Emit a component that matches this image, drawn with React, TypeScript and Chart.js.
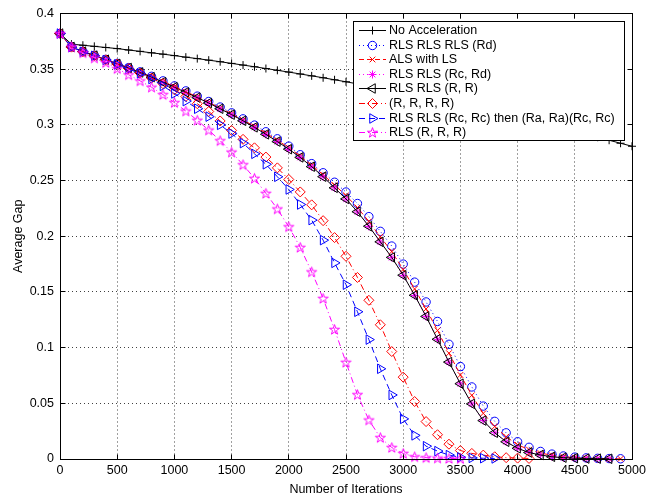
import React, { useEffect, useRef } from 'react';
import { Chart, registerables } from 'chart.js';
import { drawPoint } from 'chart.js/helpers';

Chart.register(...registerables);

const FONT = '"Liberation Sans", Arial, Helvetica, sans-serif';

const ITERATIONS = [
  0, 100, 200, 300, 400, 500, 600, 700, 800, 900,
  1000, 1100, 1200, 1300, 1400, 1500, 1600, 1700, 1800, 1900,
  2000, 2100, 2200, 2300, 2400, 2500, 2600, 2700, 2800, 2900,
  3000, 3100, 3200, 3300, 3400, 3500, 3600, 3700, 3800, 3900,
  4000, 4100, 4200, 4300, 4400, 4500, 4600, 4700, 4800, 4900,
  5000,
];

const X_TICKS = [0, 500, 1000, 1500, 2000, 2500, 3000, 3500, 4000, 4500, 5000];
const Y_TICKS = [0, 0.05, 0.1, 0.15, 0.2, 0.25, 0.3, 0.35, 0.4];
const Y_TICK_LABELS = ['0', '0.05', '0.1', '0.15', '0.2', '0.25', '0.3', '0.35', '0.4'];

const LABELS = [
  'No Acceleration',
  'RLS RLS RLS (Rd)',
  'ALS with LS',
  'RLS RLS (Rc, Rd)',
  'RLS RLS (R, R)',
  '(R, R, R, R)',
  'RLS RLS (Rc, Rc) then (Ra, Ra)(Rc, Rc)',
  'RLS (R, R, R)',
];

const NO_ACCEL = [
  0.382, 0.3725, 0.3715, 0.3705, 0.3695, 0.3685, 0.3672, 0.366, 0.3647, 0.3635,
  0.3622, 0.3608, 0.3595, 0.3581, 0.3567, 0.3552, 0.3537, 0.3522, 0.3506, 0.349,
  0.3474, 0.3457, 0.344, 0.3423, 0.3405, 0.3387, 0.3368, 0.3349, 0.333, 0.331,
  0.329, 0.327, 0.3249, 0.3228, 0.3206, 0.3184, 0.3162, 0.3139, 0.3116, 0.3092,
  0.3068, 0.3044, 0.3019, 0.2994, 0.2968, 0.2942, 0.2916, 0.2889, 0.2862, 0.2835,
  0.2808,
];

const RLS3_RD = [
  0.382, 0.3702, 0.366, 0.3625, 0.3588, 0.3552, 0.3514, 0.3476, 0.3436, 0.3395,
  0.3350, 0.3305, 0.3258, 0.3210, 0.3160, 0.3108, 0.3054, 0.2998, 0.2938, 0.2875,
  0.2809, 0.2732, 0.2652, 0.257, 0.2485, 0.2397, 0.2294, 0.2176, 0.2044, 0.1912,
  0.175, 0.1588, 0.141, 0.1235, 0.103, 0.083, 0.0647, 0.0475, 0.0338, 0.0235,
  0.0155, 0.0105, 0.0068, 0.0044, 0.0027, 0.0017, 0.001, 0.0006, 0.0004, 0.0002,
];

const ALS_LS = [
  0.381, 0.37, 0.3659, 0.3623, 0.3586, 0.355, 0.3512, 0.3473, 0.3431, 0.3388,
  0.3344, 0.3298, 0.3251, 0.3202, 0.3151, 0.3099, 0.3044, 0.2987, 0.2926, 0.2862,
  0.2795, 0.2719, 0.2638, 0.2553, 0.2460, 0.2366, 0.2257, 0.2133, 0.1995, 0.1862,
  0.1702, 0.1527, 0.1347, 0.1155, 0.0950, 0.0755, 0.0572, 0.0410, 0.0292, 0.0200,
  0.0128, 0.0084, 0.0053, 0.0034, 0.002, 0.0013, 0.0008, 0.0005, 0.0003, 0.0001,
];

const RLS2_RC_RD = [
  0.382, 0.3699, 0.3657, 0.3621, 0.3584, 0.3547, 0.3509, 0.347, 0.3427, 0.3383,
  0.3337, 0.3291, 0.3244, 0.3195, 0.3144, 0.3091, 0.3036, 0.2977, 0.2914, 0.2849,
  0.2781, 0.2707, 0.2624, 0.2534, 0.2434, 0.2333, 0.2218, 0.2088, 0.1948, 0.1808,
  0.1648, 0.1468, 0.1279, 0.1074, 0.0869, 0.0675, 0.0495, 0.0345, 0.0236, 0.0155,
  0.0096, 0.0058, 0.0036, 0.002, 0.0012, 0.0007, 0.0004, 0.0003, 0.0002,
];

const RLS2_RR = [
  0.382, 0.37, 0.3658, 0.3622, 0.3585, 0.3548, 0.351, 0.3471, 0.3428, 0.3384,
  0.3338, 0.3292, 0.3245, 0.3196, 0.3145, 0.3092, 0.3037, 0.2978, 0.2915, 0.285,
  0.2782, 0.2708, 0.2625, 0.2535, 0.2435, 0.2335, 0.222, 0.209, 0.195, 0.181,
  0.165, 0.147, 0.128, 0.1075, 0.087, 0.0676, 0.0495, 0.0345, 0.0236, 0.0155,
  0.0096, 0.0058, 0.0036, 0.002, 0.0012, 0.0007, 0.0004, 0.0003, 0.0002,
];

const R4 = [
  0.382, 0.3698, 0.3656, 0.362, 0.3584, 0.3546, 0.3506, 0.3465, 0.342, 0.337,
  0.3315, 0.3255, 0.319, 0.312, 0.3035, 0.295, 0.287, 0.2794, 0.2711, 0.2614,
  0.251, 0.2398, 0.2282, 0.214, 0.1988, 0.182, 0.163, 0.1425, 0.1205, 0.0965,
  0.0735, 0.0516, 0.0336, 0.0218, 0.0133, 0.0076, 0.005, 0.0035, 0.002, 0.0012,
  0.0008, 0.0005,
];

const RLS2_RC_RC = [
  0.382, 0.3698, 0.3656, 0.362, 0.3582, 0.3542, 0.35, 0.3462, 0.3412, 0.335,
  0.3282, 0.3213, 0.3145, 0.3074, 0.3, 0.2922, 0.2836, 0.274, 0.2646, 0.2534,
  0.242, 0.2285, 0.2145, 0.1965, 0.1761, 0.1565, 0.1322, 0.1072, 0.081, 0.0575,
  0.036, 0.0212, 0.0115, 0.0071, 0.0035, 0.0015, 0.001, 0.0007, 0.0005,
];

const RLS_R3 = [
  0.382, 0.37, 0.3647, 0.36, 0.3559, 0.3505, 0.345, 0.3395, 0.3338, 0.3272,
  0.32, 0.3124, 0.3041, 0.2953, 0.2858, 0.2755, 0.2642, 0.252, 0.2385, 0.2245,
  0.2085, 0.19, 0.168, 0.1442, 0.1163, 0.0868, 0.0578, 0.035, 0.0192, 0.0103,
  0.005, 0.002, 0.0012, 0.0008, 0.0005, 0.0003,
];

function makePentagram(color: string): HTMLCanvasElement {
  const c = document.createElement('canvas');
  c.width = 13;
  c.height = 13;
  const g = c.getContext('2d')!;
  const cx = 6.5, cy = 6.9, R = 5.3, r = 2.1;
  g.beginPath();
  for (let k = 0; k < 10; k++) {
    const rad = -Math.PI / 2 + (k * Math.PI) / 5;
    const rr = k % 2 === 0 ? R : r;
    const px = cx + rr * Math.cos(rad);
    const py = cy + rr * Math.sin(rad);
    if (k === 0) g.moveTo(px, py); else g.lineTo(px, py);
  }
  g.closePath();
  g.strokeStyle = color;
  g.lineWidth = 1;
  g.stroke();
  return c;
}

function toPoints(values: number[]) {
  return values.map((v, i) => ({ x: ITERATIONS[i], y: v }));
}

const framePlugin = {
  id: 'frameLegend',
  afterDatasetsDraw(chart: any) {
    const { ctx, chartArea: a, scales } = chart;
    const xs = scales.x;
    const ys = scales.y;
    ctx.save();
    ctx.setLineDash([]);
    ctx.strokeStyle = '#000';
    ctx.lineWidth = 1;
    const L = Math.floor(a.left) + 0.5;
    const T = Math.floor(a.top) + 0.5;
    const Rr = Math.floor(a.right) + 0.5;
    const B = Math.floor(a.bottom) + 0.5;
    ctx.strokeRect(L, T, Rr - L, B - T);
    ctx.beginPath();
    for (const v of X_TICKS) {
      const px = Math.floor(xs.getPixelForValue(v)) + 0.5;
      ctx.moveTo(px, B);
      ctx.lineTo(px, B - 5);
      ctx.moveTo(px, T);
      ctx.lineTo(px, T + 5);
    }
    for (const v of Y_TICKS) {
      const py = Math.floor(ys.getPixelForValue(v)) + 0.5;
      ctx.moveTo(L, py);
      ctx.lineTo(L + 5, py);
      ctx.moveTo(Rr, py);
      ctx.lineTo(Rr - 5, py);
    }
    ctx.stroke();

    // legend
    const boxW = 271;
    const boxH = 119;
    const boxRight = Math.floor(a.right) - 8;
    const left = boxRight - boxW;
    const top = Math.floor(a.top) + 8;
    ctx.fillStyle = '#fff';
    ctx.fillRect(left, top, boxW, boxH);
    ctx.strokeStyle = '#000';
    ctx.strokeRect(left + 0.5, top + 0.5, boxW, boxH);
    ctx.font = '12.5px ' + FONT;
    ctx.textBaseline = 'middle';
    ctx.textAlign = 'left';
    chart.data.datasets.forEach((ds: any, i: number) => {
      const y = Math.round(top + 9 + i * 14.6) + 0.5;
      ctx.strokeStyle = ds.borderColor;
      ctx.lineWidth = 1;
      ctx.setLineDash(ds.borderDash || []);
      ctx.beginPath();
      ctx.moveTo(left + 6, y);
      ctx.lineTo(left + 33, y);
      ctx.stroke();
      ctx.setLineDash([]);
      ctx.fillStyle = 'rgba(0,0,0,0)';
      ctx.strokeStyle = ds.pointBorderColor;
      drawPoint(ctx, {
        pointStyle: ds.pointStyle,
        rotation: ds.pointRotation || 0,
        radius: ds.pointRadius,
        borderWidth: 1,
      } as any, left + 19.5, y);
      ctx.fillStyle = '#000';
      ctx.fillText(ds.label, left + 36, y + 0.5);
    });
    ctx.restore();
  },
};

export default function App() {
  const canvasRef = useRef<HTMLCanvasElement | null>(null);

  useEffect(() => {
    const canvas = canvasRef.current;
    if (!canvas) return;
    const pent = makePentagram('#ff00ff');
    const base = {
      fill: false,
      tension: 0,
      borderWidth: 1,
      pointBorderWidth: 1,
      pointBackgroundColor: 'rgba(0,0,0,0)',
      clip: false,
    };
    const datasets: any[] = [
      { ...base, label: LABELS[0], data: toPoints(NO_ACCEL), borderColor: '#000000', pointBorderColor: '#000000', pointStyle: 'cross', pointRadius: 4, borderDash: [], order: 7 },
      { ...base, label: LABELS[1], data: toPoints(RLS3_RD), borderColor: '#0000ff', pointBorderColor: '#0000ff', pointStyle: 'circle', pointRadius: 4.2, borderDash: [1, 3], order: 6 },
      { ...base, label: LABELS[2], data: toPoints(ALS_LS), borderColor: '#ff0000', pointBorderColor: '#ff0000', pointStyle: 'crossRot', pointRadius: 4, borderDash: [5, 3], order: 5 },
      { ...base, label: LABELS[3], data: toPoints(RLS2_RC_RD), borderColor: '#ff00ff', pointBorderColor: '#ff00ff', pointStyle: 'star', pointRadius: 4, borderDash: [1, 3], order: 4 },
      { ...base, label: LABELS[4], data: toPoints(RLS2_RR), borderColor: '#000000', pointBorderColor: '#000000', pointStyle: 'triangle', pointRotation: -90, pointRadius: 5.5, borderDash: [], order: 3 },
      { ...base, label: LABELS[5], data: toPoints(R4), borderColor: '#ff0000', pointBorderColor: '#ff0000', pointStyle: 'rectRot', pointRadius: 5, borderDash: [6, 3, 1, 3], order: 2 },
      { ...base, label: LABELS[6], data: toPoints(RLS2_RC_RC), borderColor: '#0000ff', pointBorderColor: '#0000ff', pointStyle: 'triangle', pointRotation: 90, pointRadius: 5.5, borderDash: [6, 4], order: 1 },
      { ...base, label: LABELS[7], data: toPoints(RLS_R3), borderColor: '#ff00ff', pointBorderColor: '#ff00ff', pointStyle: pent, pointRadius: 5, borderDash: [6, 3, 1, 3], order: 0 },
    ];

    const tickFont = { family: FONT, size: 12.5 };
    const gridColor = 'rgba(0,0,0,0.75)';
    const chart = new Chart(canvas, {
      type: 'line',
      data: { datasets },
      options: {
        animation: false,
        responsive: false,
        devicePixelRatio: 1,
        events: [],
        layout: { padding: { top: 7, right: 33, left: 0, bottom: 0 } },
        plugins: {
          legend: { display: false },
          tooltip: { enabled: false },
          title: { display: false },
        },
        scales: {
          x: {
            type: 'linear',
            min: 0,
            max: 5000,
            afterBuildTicks: (scale: any) => {
              scale.ticks = X_TICKS.map((v) => ({ value: v }));
            },
            afterFit: (scale: any) => {
              scale.height = 38;
            },
            ticks: {
              color: '#000',
              font: tickFont,
              padding: 4,
              maxRotation: 0,
              autoSkip: false,
              callback: (v: any) => String(v),
            },
            grid: {
              color: gridColor,
              lineWidth: 1,
              drawTicks: false,
            },
            border: { display: false, dash: [1, 3] },
            title: {
              display: true,
              text: 'Number of Iterations',
              color: '#000',
              font: tickFont,
              padding: { top: 2.5, bottom: 0 },
            },
          },
          y: {
            type: 'linear',
            min: 0,
            max: 0.4,
            afterBuildTicks: (scale: any) => {
              scale.ticks = Y_TICKS.map((v) => ({ value: v }));
            },
            afterFit: (scale: any) => {
              scale.width = 60;
            },
            ticks: {
              color: '#000',
              font: tickFont,
              padding: 6,
              autoSkip: false,
              callback: (_v: any, i: number) => Y_TICK_LABELS[i],
            },
            grid: {
              color: gridColor,
              lineWidth: 1,
              drawTicks: false,
            },
            border: { display: false, dash: [1, 3] },
            title: {
              display: true,
              text: 'Average Gap',
              color: '#000',
              font: tickFont,
              padding: { top: 11, bottom: 0 },
            },
          },
        },
      },
      plugins: [framePlugin],
    } as any);

    return () => {
      chart.destroy();
    };
  }, []);

  return (
    <div style={{ position: 'absolute', left: 0, top: 0, width: 665, height: 497, background: '#fff' }}>
      <canvas ref={canvasRef} width={665} height={497} style={{ display: 'block' }} />
    </div>
  );
}
